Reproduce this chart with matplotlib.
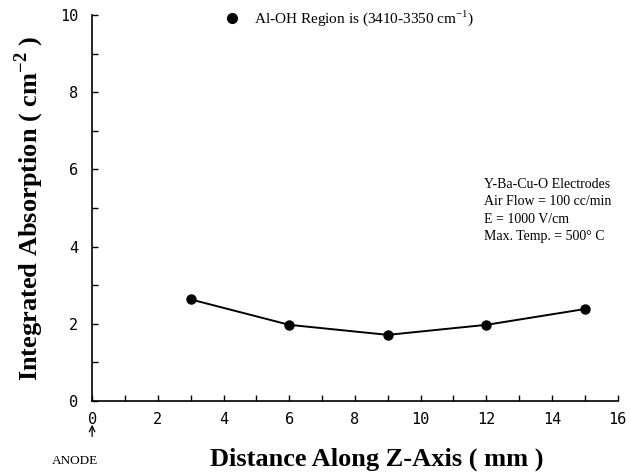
import matplotlib.pyplot as plt
import numpy as np
from matplotlib.ticker import MultipleLocator

# Al-OH band, integrated absorption vs position along z-axis
distance_mm = [3, 6, 9, 12, 15]
absorption = [2.63, 1.97, 1.71, 1.97, 2.38]

x_ticks = [0, 2, 4, 6, 8, 10, 12, 14, 16]
y_ticks = [0, 2, 4, 6, 8, 10]

conditions = [
    "Y-Ba-Cu-O Electrodes",
    "Air Flow = 100 cc/min",
    "E = 1000 V/cm",
    "Max. Temp. = 500° C",
]

serif = "Liberation Serif"
mono = "DejaVu Sans Mono"

fig = plt.figure(figsize=(6.31, 4.76), dpi=100)
ax = fig.add_axes([0.146, 0.158, 0.833, 0.81])

ax.plot(distance_mm, absorption, color="black", linewidth=1.4,
        marker="o", markersize=6.5, markerfacecolor="black")

ax.set_xlim(0, 16)
ax.set_ylim(0, 10)
ax.set_xticks(x_ticks)
ax.set_yticks(y_ticks)
ax.xaxis.set_minor_locator(MultipleLocator(1))
ax.yaxis.set_minor_locator(MultipleLocator(1))
ax.tick_params(which="both", direction="in", length=4, width=1, color="black")
ax.tick_params(axis="x", which="major", pad=8)
ax.tick_params(axis="y", which="major", pad=10)
ax.spines["top"].set_visible(False)
ax.spines["right"].set_visible(False)
for s in ("left", "bottom"):
    ax.spines[s].set_linewidth(1.2)

for lbl in ax.get_xticklabels() + ax.get_yticklabels():
    lbl.set_fontfamily(mono)
    lbl.set_fontsize(11)

ax.set_xlabel("Distance Along Z-Axis ( mm )", fontfamily=serif,
              fontsize=19, fontweight="bold")
ax.xaxis.set_label_coords(0.542, -0.122)
ax.set_ylabel("Integrated Absorption ( cm$^{\\mathregular{-2}}$ )", fontfamily=serif,
              fontsize=19, fontweight="bold", labelpad=10)

# legend-like header
ax.plot([0.266], [0.992], transform=ax.transAxes, marker="o", color="black",
        markersize=7, clip_on=False)
ax.text(0.308, 0.992, "Al-OH Region is (3410-3350 cm$^{\\mathregular{-1}}$)",
        transform=ax.transAxes, fontfamily=serif, fontsize=11,
        va="center", ha="left")

ax.text(0.745, 0.578, "\n".join(conditions), transform=ax.transAxes,
        fontfamily=serif, fontsize=10, va="top", ha="left", linespacing=1.45)

# anode marker below the origin
ax.annotate("", xy=(0, -0.055), xytext=(0, -0.1), xycoords="axes fraction",
            arrowprops=dict(arrowstyle="->", color="black", lw=0.9))
ax.text(-0.033, -0.157, "ANODE", transform=ax.transAxes, fontfamily=serif,
        fontsize=9.5, ha="center", va="center")

fig.savefig("out.png", dpi=100)
